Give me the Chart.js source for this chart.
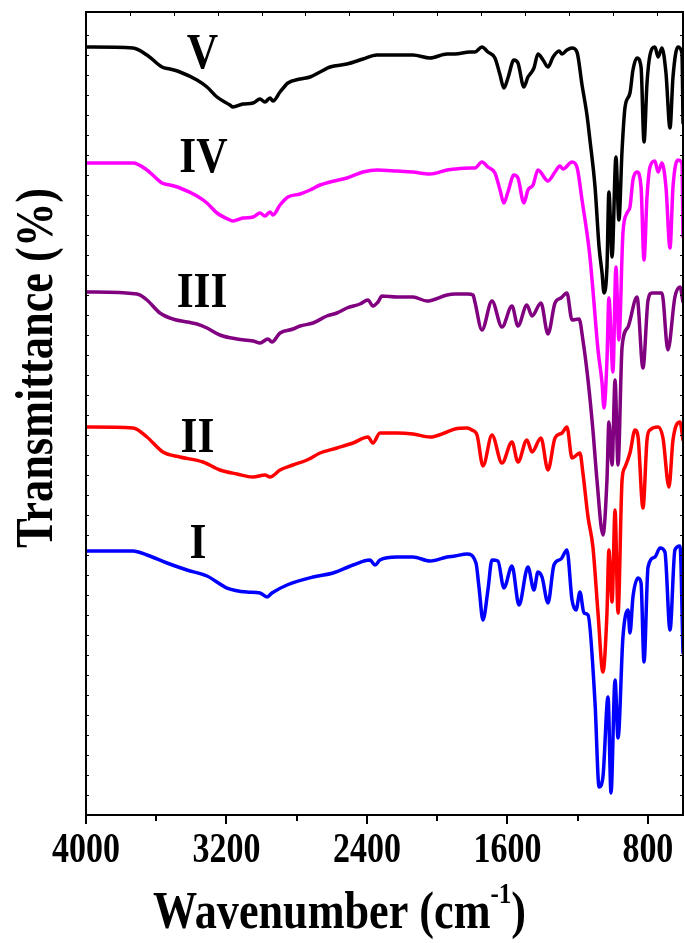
<!DOCTYPE html>
<html>
<head>
<meta charset="utf-8">
<title>FTIR spectra I - V</title>
<script src="https://cdn.jsdelivr.net/npm/chart.js@4.4.1/dist/chart.umd.min.js"></script>
<style>
  html, body { margin: 0; padding: 0; background: #ffffff; }
  canvas { display: block; }
</style>
</head>
<body>
<canvas id="ftirChart" width="685" height="943"></canvas>
<script>
// Spectra: wavenumber (cm-1) and offset transmittance (arb. units)
const wnI = [4000, 3732, 3653, 3539, 3425, 3311, 3197, 3083, 3009, 2969, 2941, 2855, 2707, 2593, 2479, 2383, 2354, 2326, 2229, 2138, 2041, 1944, 1899, 1830, 1779, 1762, 1739, 1711, 1688, 1654, 1620, 1574, 1534, 1483, 1449, 1426, 1403, 1369, 1335, 1295, 1261, 1232, 1209, 1187, 1164, 1141, 1101, 1078, 1056, 1027, 1010, 987, 970, 942, 913, 902, 885, 856, 839, 822, 799, 760, 731, 703, 674, 646, 617, 600];
const tI = [264, 264, 260, 252, 245, 239, 227, 223, 222, 218, 222, 230, 238, 242, 250, 255, 250, 255, 258, 258, 254, 258, 259, 261, 252, 228, 195, 225, 255, 254, 227, 249, 210, 248, 225, 243, 238, 212, 250, 256, 265, 215, 205, 223, 202, 200, 112, 28, 38, 118, 22, 135, 77, 178, 205, 182, 218, 237, 232, 153, 248, 258, 267, 263, 185, 265, 269, 162];

const wnII = [4000, 3732, 3653, 3562, 3465, 3334, 3237, 3140, 3049, 2981, 2952, 2895, 2821, 2741, 2667, 2571, 2479, 2394, 2366, 2326, 2229, 2138, 2041, 1944, 1899, 1830, 1802, 1773, 1739, 1688, 1631, 1574, 1540, 1489, 1460, 1409, 1369, 1329, 1289, 1261, 1232, 1187, 1170, 1141, 1113, 1084, 1056, 1033, 1022, 1004, 987, 970, 947, 930, 902, 873, 856, 828, 805, 788, 742, 714, 680, 657, 617, 600];
const tII = [388, 387, 378, 363, 358, 353, 345, 341, 338, 340, 338, 345, 350, 355, 362, 367, 372, 378, 372, 382, 382, 381, 378, 383, 386, 387, 385, 380, 349, 380, 352, 373, 353, 375, 363, 377, 345, 377, 382, 388, 357, 362, 342, 298, 268, 202, 143, 202, 265, 213, 305, 202, 335, 348, 362, 385, 378, 307, 375, 385, 388, 377, 328, 375, 393, 375];

const wnIII = [4000, 3710, 3653, 3579, 3505, 3368, 3311, 3237, 3140, 3049, 3009, 2964, 2941, 2895, 2821, 2781, 2707, 2628, 2571, 2514, 2440, 2394, 2366, 2337, 2314, 2229, 2138, 2058, 1944, 1899, 1825, 1796, 1785, 1745, 1688, 1631, 1574, 1540, 1489, 1460, 1409, 1369, 1329, 1295, 1261, 1232, 1192, 1170, 1141, 1113, 1090, 1056, 1033, 1022, 1004, 987, 970, 947, 913, 862, 828, 799, 777, 720, 686, 646, 617, 600];
const tIII = [523, 521, 515, 502, 496, 491, 487, 480, 476, 474, 472, 476, 473, 482, 486, 489, 492, 499, 502, 507, 511, 515, 509, 513, 519, 518, 518, 514, 520, 521, 521, 520, 513, 485, 514, 488, 509, 489, 510, 499, 512, 481, 512, 517, 522, 495, 496, 475, 435, 385, 335, 280, 335, 393, 350, 435, 350, 468, 488, 518, 447, 515, 522, 522, 465, 518, 528, 513];

const wnIV = [4000, 3732, 3653, 3567, 3522, 3465, 3368, 3311, 3254, 3180, 3163, 3106, 3049, 3009, 2981, 2952, 2935, 2895, 2850, 2781, 2724, 2667, 2610, 2514, 2422, 2343, 2229, 2138, 2041, 1944, 1899, 1813, 1785, 1745, 1711, 1671, 1642, 1620, 1597, 1563, 1540, 1506, 1483, 1454, 1426, 1369, 1329, 1301, 1283, 1232, 1204, 1175, 1147, 1130, 1113, 1084, 1061, 1050, 1033, 1022, 999, 982, 965, 942, 919, 902, 885, 862, 839, 822, 805, 788, 760, 742, 720, 697, 674, 657, 629, 606, 600];
const tIV = [652, 652, 645, 632, 630, 627, 619, 612, 602, 595, 594, 597, 598, 602, 599, 603, 600, 610, 618, 621, 625, 630, 633, 637, 643, 645, 644, 643, 641, 645, 646, 647, 647, 653, 648, 642, 625, 612, 623, 640, 637, 612, 625, 630, 645, 634, 643, 649, 646, 653, 648, 615, 582, 558, 525, 465, 432, 407, 455, 517, 443, 548, 475, 582, 602, 608, 635, 643, 628, 555, 618, 648, 654, 643, 652, 628, 567, 628, 655, 652, 578];

const wnV = [4000, 3732, 3653, 3567, 3522, 3465, 3368, 3311, 3254, 3180, 3163, 3106, 3049, 3009, 2981, 2952, 2935, 2895, 2850, 2781, 2724, 2667, 2610, 2514, 2422, 2343, 2229, 2138, 2041, 1944, 1899, 1813, 1785, 1745, 1711, 1671, 1642, 1620, 1597, 1563, 1540, 1506, 1483, 1466, 1449, 1426, 1397, 1369, 1340, 1306, 1289, 1261, 1232, 1204, 1175, 1147, 1130, 1101, 1078, 1061, 1050, 1033, 1022, 1004, 982, 965, 947, 930, 902, 885, 862, 839, 822, 805, 788, 760, 742, 720, 697, 674, 657, 629, 606, 600];
const tV = [768, 767, 760, 748, 746, 743, 735, 728, 718, 710, 708, 711, 712, 716, 713, 717, 714, 723, 732, 736, 738, 743, 748, 751, 756, 760, 760, 760, 757, 761, 761, 763, 763, 768, 763, 757, 740, 727, 737, 755, 752, 728, 738, 742, 747, 761, 755, 748, 758, 764, 761, 765, 767, 763, 730, 700, 675, 628, 568, 542, 522, 548, 623, 558, 658, 595, 665, 708, 722, 745, 757, 748, 673, 732, 760, 768, 758, 767, 742, 687, 738, 768, 762, 692];

const sampleNames = ["I", "II", "III", "IV", "V"];
const sampleColors = ["#0000ff", "#ff0000", "#800080", "#ff00ff", "#000000"];
const sampleWn = [wnI, wnII, wnIII, wnIV, wnV];
const sampleT = [tI, tII, tIII, tIV, tV];

// Axis ticks
const xMajorTicks = [4000, 3200, 2400, 1600, 800];
const xMinorTicks = [3600, 2800, 2000, 1200];
const xTopTicks = [3750, 3500, 3250, 3000, 2750, 2500, 2250, 2000, 1750, 1500, 1250, 1000, 750];

// Where the sample names sit (wavenumber, transmittance baseline)
const labelWn = [3362, 3365, 3339, 3331, 3337];
const labelT = [257, 363, 508, 643, 747];

const serif = "'Liberation Serif', 'Times New Roman', serif";

// Bold serif text squeezed horizontally, like the exported figure
function drawSquashed(ctx, text, x, y, size, scaleX, align) {
  ctx.save();
  ctx.font = "bold " + size + "px " + serif;
  ctx.translate(x, y);
  ctx.scale(scaleX, 1);
  ctx.textAlign = align || "center";
  ctx.textBaseline = "alphabetic";
  ctx.fillStyle = "#000000";
  ctx.fillText(text, 0, 0);
  ctx.restore();
}

function textWidth(ctx, text, size) {
  ctx.font = "bold " + size + "px " + serif;
  return ctx.measureText(text).width;
}

const axisDecor = {
  id: "axisDecor",
  afterDraw(chart) {
    const { ctx, chartArea } = chart;
    const xScale = chart.scales.x;
    const yScale = chart.scales.y;
    const left = chartArea.left, right = chartArea.right;
    const top = chartArea.top, bottom = chartArea.bottom;

    ctx.save();
    ctx.strokeStyle = "#000000";
    ctx.lineWidth = 2;
    ctx.strokeRect(left, top, right - left, bottom - top);

    // bottom ticks, pointing out
    ctx.beginPath();
    xMajorTicks.forEach(function (v) {
      const px = Math.round(xScale.getPixelForValue(v));
      ctx.moveTo(px, bottom);
      ctx.lineTo(px, bottom + 9);
    });
    xMinorTicks.forEach(function (v) {
      const px = Math.round(xScale.getPixelForValue(v));
      ctx.moveTo(px, bottom);
      ctx.lineTo(px, bottom + 6);
    });
    ctx.stroke();

    // small inward ticks on top, left and right
    ctx.lineWidth = 1;
    ctx.beginPath();
    xTopTicks.forEach(function (v) {
      const px = Math.round(xScale.getPixelForValue(v)) + 0.5;
      ctx.moveTo(px, top);
      ctx.lineTo(px, top + 4);
    });
    for (let v = 20; v < 800; v += 20) {
      const py = Math.round(yScale.getPixelForValue(v)) + 0.5;
      ctx.moveTo(left, py);
      ctx.lineTo(left + 3, py);
      ctx.moveTo(right, py);
      ctx.lineTo(right - 3, py);
    }
    ctx.stroke();
    ctx.restore();

    // tick labels
    xMajorTicks.forEach(function (v) {
      drawSquashed(ctx, String(v), xScale.getPixelForValue(v), bottom + 47, 43, 0.79);
    });

    // sample names
    sampleNames.forEach(function (name, i) {
      drawSquashed(ctx, name, xScale.getPixelForValue(labelWn[i]), yScale.getPixelForValue(labelT[i]), 50, 0.87);
    });

    // x axis title with superscript
    const mainPart = "Wavenumber (cm";
    const supPart = "-1";
    const endPart = ")";
    const wMain = textWidth(ctx, mainPart, 53);
    const wSup = textWidth(ctx, supPart, 30);
    const wEnd = textWidth(ctx, endPart, 53);
    const sx = 373 / (wMain + wSup + wEnd);
    const x0 = 153;
    drawSquashed(ctx, mainPart, x0, 928, 53, sx, "left");
    drawSquashed(ctx, supPart, x0 + wMain * sx, 903, 30, sx, "left");
    drawSquashed(ctx, endPart, x0 + (wMain + wSup) * sx, 928, 53, sx, "left");

    // y axis title, rotated
    const yTitle = "Transmittance (%)";
    const sy = 360 / textWidth(ctx, yTitle, 53);
    ctx.save();
    ctx.translate(52, 368);
    ctx.rotate(-Math.PI / 2);
    drawSquashed(ctx, yTitle, 0, 0, 53, sy, "center");
    ctx.restore();
  },
};

const datasets = sampleNames.map(function (name, i) {
  return {
    label: name,
    data: sampleWn[i].map(function (wn, j) {
      return { x: wn, y: sampleT[i][j] };
    }),
    borderColor: sampleColors[i],
    backgroundColor: sampleColors[i],
    borderWidth: 3.5,
    pointRadius: 0,
    cubicInterpolationMode: "monotone",
    borderJoinStyle: "round",
    borderCapStyle: "round",
    fill: false,
  };
});

const ctx = document.getElementById("ftirChart").getContext("2d");
const ftirChart = new Chart(ctx, {
  type: "line",
  data: { datasets: datasets },
  options: {
    responsive: false,
    animation: false,
    events: [],
    layout: {
      padding: { left: 86, top: 12, right: 2, bottom: 128 },
    },
    plugins: {
      legend: { display: false },
      tooltip: { enabled: false },
    },
    scales: {
      x: { type: "linear", reverse: true, min: 600, max: 4000, display: false },
      y: { type: "linear", min: 0, max: 803, display: false },
    },
  },
  plugins: [axisDecor],
});
</script>
</body>
</html>
